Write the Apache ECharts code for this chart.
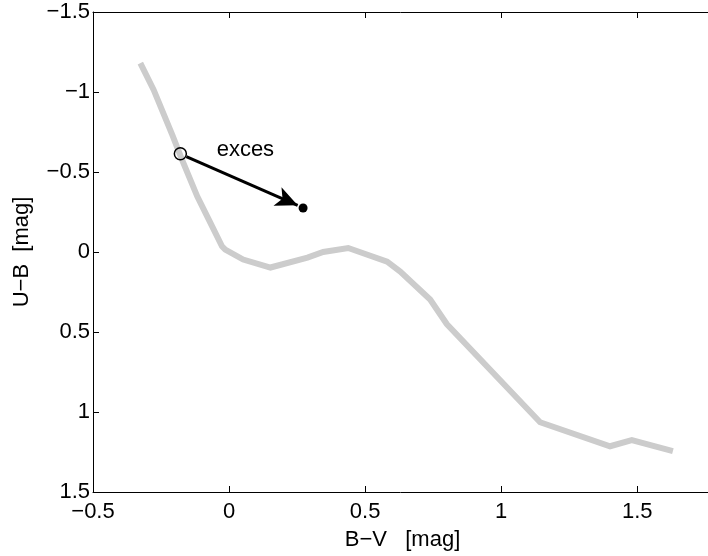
<!DOCTYPE html>
<html>
<head>
<meta charset="utf-8">
<script src="https://cdn.jsdelivr.net/npm/echarts@6/dist/echarts.min.js"></script>
<style>
  html, body { margin: 0; padding: 0; background: #fff; }
  #chart { width: 708px; height: 556px; }
</style>
</head>
<body>
<div id="chart"></div>
<script>
// intrinsic colour sequence (B-V, U-B)
const bv = [-0.326, -0.277, -0.209, -0.173, -0.117, -0.069, -0.026, -0.014, 0.052, 0.152, 0.288, 0.346, 0.438, 0.581, 0.629, 0.739, 0.80, 1.143, 1.40, 1.48, 1.631];
const ub = [-1.18, -1.013, -0.733, -0.577, -0.348, -0.184, -0.036, -0.015, 0.047, 0.097, 0.035, 0.0, -0.025, 0.06, 0.122, 0.297, 0.45, 1.064, 1.214, 1.176, 1.245];

// reddened star: intrinsic (open) and observed (filled)
const intrinsicPt = [-0.179, -0.614];
const observedPt = [0.272, -0.275];
const arrowFrom = [-0.157, -0.596];
const arrowTo = [0.252, -0.292];
const excessLabelPos = [0.06, -0.64];

const xTicks = [-0.5, 0, 0.5, 1, 1.5];
const yTicks = [-1.5, -1, -0.5, 0, 0.5, 1, 1.5];

const fmt = v => String(v).replace('-', '\u2212');
const font = 'Liberation Sans, Arial, sans-serif';
const fs = 22;

const chart = echarts.init(document.getElementById('chart'));

const axisLineStyle = { color: '#000', width: 1 };

chart.setOption({
  animation: false,
  grid: { left: 93, right: 0, top: 12, bottom: 63 },
  xAxis: [
    {
      type: 'value',
      min: -0.5,
      max: 1.76,
      interval: 0.5,
      name: 'B\u2212V   [mag]',
      nameLocation: 'middle',
      nameGap: 37,
      nameTextStyle: { fontFamily: font, fontSize: fs, color: '#000', padding: [0, 0, 0, 4] },
      axisLine: { show: true, onZero: false, lineStyle: axisLineStyle },
      axisTick: { show: true, inside: true, length: 6, lineStyle: axisLineStyle },
      axisLabel: {
        fontFamily: font, fontSize: fs, color: '#000', margin: 9,
        showMaxLabel: false,
        formatter: v => xTicks.includes(+v.toFixed(2)) ? fmt(v) : ''
      },
      splitLine: { show: false }
    },
    {
      type: 'value',
      position: 'top',
      min: -0.5,
      max: 1.76,
      interval: 0.5,
      axisLine: { show: true, onZero: false, lineStyle: axisLineStyle },
      axisTick: { show: true, inside: true, length: 6, lineStyle: axisLineStyle },
      axisLabel: { show: false },
      splitLine: { show: false }
    }
  ],
  yAxis: {
    type: 'value',
    inverse: true,
    min: -1.5,
    max: 1.5,
    interval: 0.5,
    name: 'U\u2212B  [mag]',
    nameLocation: 'middle',
    nameGap: 60,
    nameTextStyle: { fontFamily: font, fontSize: fs, color: '#000' },
    axisLine: { show: true, onZero: false, lineStyle: axisLineStyle },
    axisTick: { show: true, inside: true, length: 6, lineStyle: axisLineStyle },
    axisLabel: {
      fontFamily: font, fontSize: fs, color: '#000', margin: 3,
      formatter: v => yTicks.includes(v) ? fmt(v) : ''
    },
    splitLine: { show: false }
  },
  series: [
    {
      type: 'line',
      data: bv.map((x, i) => [x, ub[i]]),
      showSymbol: false,
      symbol: 'none',
      lineStyle: { color: '#cccccc', width: 6, join: 'miter' },
      z: 1,
      markLine: {
        silent: true,
        symbol: ['none', 'arrow'],
        symbolSize: [15, 22],
        label: { show: false },
        lineStyle: { color: '#000', width: 3, type: 'solid', opacity: 1 },
        data: [[{ coord: arrowFrom }, { coord: arrowTo }]]
      }
    },
    {
      type: 'scatter',
      data: [intrinsicPt],
      symbol: 'circle',
      symbolSize: 12,
      itemStyle: { color: 'rgba(255,255,255,0)', borderColor: '#000', borderWidth: 1.5, opacity: 1 },
      z: 3
    },
    {
      type: 'scatter',
      data: [observedPt],
      symbol: 'circle',
      symbolSize: 9,
      itemStyle: { color: '#000', opacity: 1 },
      z: 3
    },
    {
      type: 'scatter',
      data: [excessLabelPos],
      symbolSize: 0,
      itemStyle: { opacity: 1 },
      label: {
        show: true,
        position: 'inside',
        formatter: 'exces',
        fontFamily: font,
        fontSize: fs,
        color: '#000'
      },
      z: 4
    }
  ]
});
</script>
</body>
</html>
